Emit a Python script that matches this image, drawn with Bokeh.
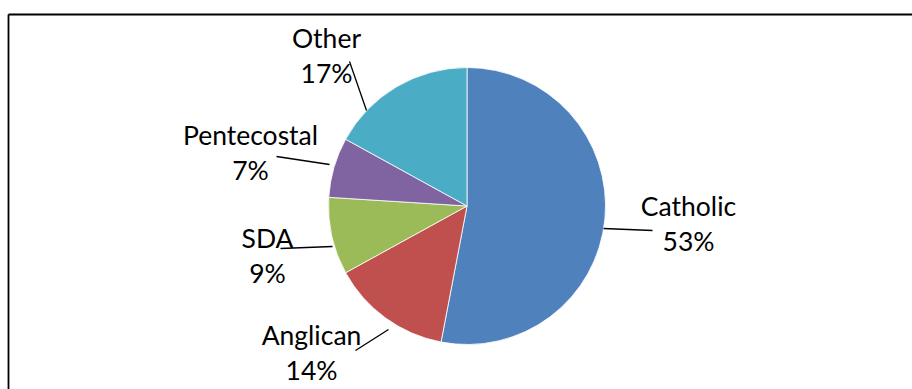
import math
from bokeh.plotting import figure
from bokeh.models import Range1d, ColumnDataSource
from bokeh.core.properties import value
from bokeh.embed import file_html
from bokeh.resources import INLINE

# ---- data ----
categories = ["Catholic", "Anglican", "SDA", "Pentecostal", "Other"]
shares = [53, 14, 9, 7, 17]
colors = ["#4F81BD", "#C0504D", "#9BBB59", "#8064A2", "#4BACC6"]

# ---- layout (pixels, y measured from top) ----
W, H = 912, 389
CX, CY, R = 466.5, 205.5, 138.5
label_pos = {  # (center x, baseline of first line)
    "Catholic": (688, 216),
    "Anglican": (311, 345),
    "SDA": (267, 248),
    "Pentecostal": (250, 145),
    "Other": (326, 48),
}
leaders = {  # (label end x, y, pie end x, y)
    "Catholic": (652, 230, 603, 228),
    "Anglican": (355, 350, 388, 329),
    "SDA": (280, 248, 332, 246),
    "Pentecostal": (276, 156, 329, 164),
    "Other": (349, 61, 366, 110),
}
LINE_GAP = 35
BASE_SHIFT = -11
FONT = "Lato"
FSIZE = "26.5px"


def Y(py):
    return H - py


p = figure(width=W, height=H, output_backend="svg", toolbar_location=None,
           x_range=Range1d(0, W), y_range=Range1d(0, H), min_border=0)
p.axis.visible = False
p.grid.visible = False
p.outline_line_color = None
p.background_fill_color = "white"
p.border_fill_color = "white"

# wedges, clockwise from 12 o'clock
total = float(sum(shares))
starts, ends = [], []
cum = 0.0
for s in shares:
    starts.append(math.pi / 2 - 2 * math.pi * cum / total)
    cum += s
    ends.append(math.pi / 2 - 2 * math.pi * cum / total)

src = ColumnDataSource(dict(cat=categories, share=shares, color=colors,
                            start=starts, end=ends,
                            x=[CX] * len(shares), y=[Y(CY)] * len(shares)))
p.wedge(x="x", y="y", radius=R, start_angle="start", end_angle="end",
        direction="clock", fill_color="color", line_color="white",
        line_width=0.8, source=src)

# leader lines
xs, ys = [], []
for c in categories:
    x1, y1, x2, y2 = leaders[c]
    xs.append([x1, x2])
    ys.append([Y(y1), Y(y2)])
p.multi_line(xs=xs, ys=ys, line_color="black", line_width=1.3)

# labels
lx = [label_pos[c][0] for c in categories]
ly1 = [Y(label_pos[c][1] + BASE_SHIFT) for c in categories]
ly2 = [Y(label_pos[c][1] + BASE_SHIFT + LINE_GAP) for c in categories]
pct = [f"{s}%" for s in shares]
p.text(x=lx, y=ly1, text=categories, text_align="center",
       text_baseline="alphabetic", text_font=value(FONT),
       text_font_size=FSIZE, text_color="black")
p.text(x=lx, y=ly2, text=pct, text_align="center",
       text_baseline="alphabetic", text_font=value(FONT),
       text_font_size=FSIZE, text_color="black")

# chart-area frame (left and top edges visible)
p.multi_line(xs=[[8, 8], [8, W]], ys=[[0, Y(14)], [Y(14), Y(14)]],
             line_color="black", line_width=1.8)

open("out.html", "w").write(file_html(p, INLINE))
